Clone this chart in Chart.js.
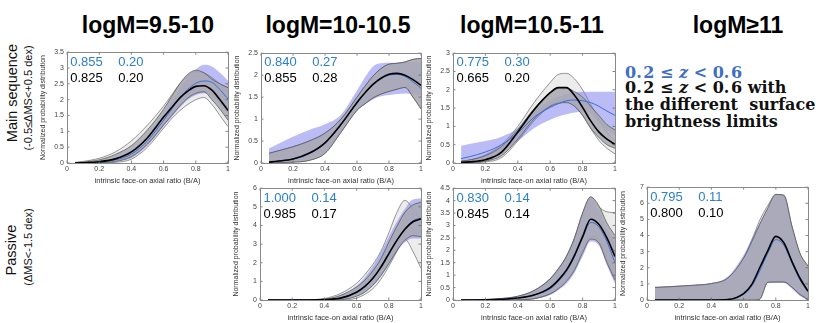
<!DOCTYPE html>
<html><head><meta charset="utf-8">
<script src="https://cdn.jsdelivr.net/npm/chart.js@4.4.0/dist/chart.umd.min.js"></script>
<style>
html,body{margin:0;padding:0;background:#fff;}
#wrap{position:relative;width:830px;height:323px;overflow:hidden;font-family:'Liberation Sans',Arial,sans-serif;}
canvas{position:absolute;}
.t{position:absolute;white-space:nowrap;}
.title{font-weight:bold;font-size:23px;line-height:23px;transform:translateX(-50%);color:#000;}
.num{font-size:13px;line-height:13px;color:#000;}
.blue{color:#2b7fcb;}
.rot{transform:translate(-50%,-50%) rotate(-90deg);color:#111;}
.leg{font-family:'DejaVu Serif',serif;font-weight:bold;font-size:16px;line-height:16px;color:#111;}
.legb{color:#3f6fbf;}
</style></head><body><div id="wrap"></div>
<script>
// ---- data ----
const X = [0.05,0.1,0.2,0.3,0.4,0.5,0.6,0.65,0.7,0.75,0.8,0.85,0.9,0.95,1.0];

const titles = ['logM=9.5-10','logM=10-10.5','logM=10.5-11','logM\u226511'];
const xTitle = 'intrinsic face-on axial ratio (B/A)';
const yTitle = 'Normalized probability distribution';

// panel 1: main sequence, logM 9.5-10
const p1_black  = [0.0,0.01,0.04,0.13,0.35,0.8,1.45,1.75,2.05,2.27,2.42,2.44,2.3,2.0,1.66];
const p1_blue   = [0,0.01,0.03,0.1,0.28,0.7,1.35,1.7,2.05,2.33,2.52,2.59,2.55,2.32,2.02];
const p1_blueHi = [0.01,0.02,0.06,0.17,0.4,0.85,1.55,1.95,2.35,2.7,2.95,3.1,3.05,2.85,2.6];
const p1_blueLo = [0,0,0.01,0.05,0.16,0.55,1.15,1.45,1.75,2.0,2.15,2.2,2.1,1.85,1.55];
const p1_darkHi = [0.01,0.03,0.1,0.27,0.55,1.05,1.7,2.1,2.5,2.8,2.93,2.85,2.65,2.5,2.38];
const p1_darkLo = [0,0,0.01,0.05,0.2,0.6,1.2,1.5,1.8,2.05,2.2,2.25,2.0,1.7,1.35];
const p1_lightHi= [0.02,0.05,0.15,0.35,0.7,1.2,1.8,2.15,2.5,2.75,2.88,2.85,2.7,2.5,2.38];
const p1_lightLo= [0,0,0,0.02,0.12,0.5,1.1,1.4,1.65,1.85,2.0,2.07,1.85,1.5,1.15];

// panel 2: main sequence, logM 10-10.5
const p2_black  = [0.02,0.04,0.09,0.22,0.46,0.88,1.38,1.6,1.79,1.93,2.02,2.04,2.0,1.9,1.77];
const p2_blue   = [0.02,0.04,0.09,0.21,0.45,0.87,1.37,1.59,1.78,1.92,2.0,2.02,1.97,1.85,1.7];
const p2_blueHi = [0.33,0.42,0.6,0.75,0.88,1.1,1.65,1.95,2.2,2.27,2.28,2.28,2.3,2.3,2.3];
const p2_blueLo = [0,0.01,0.04,0.1,0.25,0.7,1.2,1.33,1.45,1.52,1.55,1.57,1.58,1.57,1.55];
const p2_darkHi = [0.22,0.27,0.37,0.5,0.68,1.0,1.5,1.75,1.98,2.15,2.25,2.27,2.3,2.36,2.38];
const p2_darkLo = [0,0.01,0.02,0.06,0.22,0.7,1.2,1.35,1.48,1.57,1.63,1.68,1.72,1.5,1.23];
const p2_lightHi= p2_darkHi;
const p2_lightLo= p2_darkLo;

// panel 3: main sequence, logM 10.5-11
const p3_black  = [0.02,0.03,0.09,0.3,0.85,1.45,1.92,2.06,2.06,1.85,1.52,1.15,0.85,0.65,0.51];
const p3_blue   = [0.12,0.17,0.3,0.5,0.82,1.25,1.52,1.62,1.7,1.72,1.7,1.65,1.55,1.42,1.3];
const p3_blueHi = [0.47,0.52,0.6,0.72,0.95,1.4,1.7,1.8,1.88,1.93,1.95,1.95,1.95,1.95,1.95];
const p3_blueLo = [0,0.03,0.12,0.3,0.6,0.95,1.18,1.27,1.33,1.38,1.4,1.35,1.1,0.9,0.75];
const p3_darkHi = [0.05,0.08,0.2,0.45,0.92,1.48,1.93,2.06,2.05,1.95,1.8,1.55,1.3,1.05,0.9];
const p3_darkLo = [0,0.01,0.05,0.2,0.65,1.2,1.55,1.63,1.65,1.55,1.3,0.95,0.7,0.5,0.4];
const p3_lightHi= [0.05,0.08,0.22,0.5,1.0,1.65,2.2,2.42,2.45,2.3,2.0,1.6,1.2,0.85,0.6];
const p3_lightLo= [0,0.01,0.03,0.15,0.6,1.15,1.55,1.66,1.67,1.55,1.3,0.95,0.62,0.4,0.25];

// panel 4: passive, logM 10-10.5
const p4_black  = [0,0,0,0,0.02,0.1,0.42,0.72,1.15,1.75,2.48,3.2,3.8,4.2,4.35];
const p4_blue   = [0,0,0,0,0.02,0.11,0.44,0.75,1.18,1.78,2.5,3.22,3.82,4.25,4.4];
const p4_blueHi = [0,0,0,0.01,0.05,0.25,0.75,1.2,1.8,2.55,3.4,4.2,4.9,5.4,5.45];
const p4_blueLo = [0,0,0,0,0,0.02,0.2,0.4,0.75,1.25,1.9,2.6,3.1,3.3,3.3];
const p4_darkHi = [0,0,0,0.01,0.04,0.25,0.7,1.05,1.55,2.2,3.1,3.95,4.7,5.1,5.25];
const p4_darkLo = [0,0,0,0,0,0.02,0.2,0.42,0.78,1.3,1.95,2.65,3.2,3.45,3.4];
const p4_lightHi= [0,0,0,0.01,0.08,0.35,0.9,1.35,1.9,2.6,3.6,4.7,5.35,4.9,4.3];
const p4_lightLo= [0,0,0,0,0,0,0.1,0.3,0.6,1.1,1.8,2.6,3.25,2.6,1.7];

// panel 5: passive, logM 10.5-11
const p5_black  = [0,0,0.01,0.03,0.08,0.2,0.5,0.8,1.2,1.8,2.55,3.25,3.05,2.5,1.75];
const p5_blue   = [0,0,0.01,0.03,0.08,0.2,0.45,0.75,1.15,1.75,2.5,3.12,2.95,2.35,1.5];
const p5_blueHi = [0,0,0.02,0.06,0.16,0.4,0.9,1.3,1.8,2.55,3.5,4.1,3.6,2.9,2.3];
const p5_blueLo = [0,0,0,0,0.01,0.05,0.2,0.4,0.65,1.1,1.75,2.35,2.2,1.4,0.65];
const p5_darkHi = [0,0,0.02,0.06,0.15,0.38,0.85,1.25,1.75,2.5,3.5,4.15,3.8,3.1,2.6];
const p5_darkLo = [0,0,0,0,0.01,0.05,0.25,0.45,0.75,1.2,1.9,2.45,2.3,1.5,0.8];
const p5_lightHi= [0,0,0.02,0.06,0.15,0.38,0.85,1.25,1.75,2.5,3.5,4.15,3.75,3.55,3.52];
const p5_lightLo= [0,0,0,0,0.01,0.05,0.25,0.45,0.8,1.25,2.0,2.55,2.4,1.6,0.9];

// panel 6: passive, logM >= 11
const p6_black  = [0,0,0,0,0,0.03,0.4,0.95,2.0,3.05,3.95,3.55,2.4,1.35,0.55];
const p6_blue   = [0,0,0,0,0,0.03,0.35,0.85,1.8,2.9,3.75,3.4,2.3,1.25,0.5];
const p6_blueHi = [0.82,0.84,0.88,0.95,1.05,1.45,2.8,3.8,4.8,5.7,6.55,6.5,4.6,2.8,2.0];
const p6_blueLo = [0,0,0,0,0,0,0,0,0.05,1.05,1.05,1.05,0.7,0.25,0];
const p6_darkHi = [0.78,0.8,0.86,0.92,1.02,1.35,2.6,3.6,4.7,5.7,6.55,6.5,4.6,2.9,2.1];
const p6_darkLo = [0,0,0,0,0,0,0,0,0.05,1.1,1.12,1.12,0.8,0.35,0.02];
const p6_lightHi= [0.78,0.8,0.86,0.92,1.02,1.35,2.6,3.7,4.95,5.85,6.55,6.5,4.6,2.9,2.1];
const p6_lightLo= p6_darkLo;

// statistics written in each panel: [mean, width]
const statsBlue  = [['0.855','0.20'],['0.840','0.27'],['0.775','0.30'],['1.000','0.14'],['0.830','0.14'],['0.795','0.11']];
const statsBlack = [['0.825','0.20'],['0.855','0.28'],['0.665','0.20'],['0.985','0.17'],['0.845','0.14'],['0.800','0.10']];

const yMax  = [3.5,2.5,3,6,4.5,7];
const yStep = [0.5,0.5,0.5,1,0.5,1];

// ---- layout ----
const geom = [
  {L:66.7,R:228,T:51,B:163},
  {L:260.7,R:421,T:51.7,B:163},
  {L:453,R:615,T:51.7,B:163},
  {L:260,R:421,T:187,B:300},
  {L:453,R:615,T:187,B:300},
  {L:646.7,R:808,T:186,B:300}
];
const series = [
  [p1_black,p1_blue,p1_darkLo,p1_darkHi,p1_blueLo,p1_blueHi,p1_lightLo,p1_lightHi],
  [p2_black,p2_blue,p2_darkLo,p2_darkHi,p2_blueLo,p2_blueHi,p2_lightLo,p2_lightHi],
  [p3_black,p3_blue,p3_darkLo,p3_darkHi,p3_blueLo,p3_blueHi,p3_lightLo,p3_lightHi],
  [p4_black,p4_blue,p4_darkLo,p4_darkHi,p4_blueLo,p4_blueHi,p4_lightLo,p4_lightHi],
  [p5_black,p5_blue,p5_darkLo,p5_darkHi,p5_blueLo,p5_blueHi,p5_lightLo,p5_lightHi],
  [p6_black,p6_blue,p6_darkLo,p6_darkHi,p6_blueLo,p6_blueHi,p6_lightLo,p6_lightHi]
];

const wrap = document.getElementById('wrap');
function addText(cls, html, left, top){
  const d = document.createElement('div');
  d.className = 't ' + cls; d.innerHTML = html;
  d.style.left = left + 'px'; d.style.top = top + 'px';
  wrap.appendChild(d); return d;
}

// titles
const titleX = [148, 338, 532, 738];
titles.forEach((t,i)=>addText('title', t, titleX[i], 13.5));

// row labels
addText('rot', 'Main sequence', 11.5, 92.5).style.fontSize = '14.5px';
addText('rot', '(-0.5\u2264\u0394MS&lt;+0.5 dex)', 27.5, 98).style.fontSize = '11px';
addText('rot', 'Passive', 11, 250).style.fontSize = '14.5px';
addText('rot', '(\u0394MS&lt;-1.5 dex)', 27.5, 247).style.fontSize = '11px';

// legend
addText('leg legb', '0.\u200a2 \u2264 <i>z</i> &lt; 0.\u200a6', 625, 64.5);
addText('leg', '0.\u200a2 \u2264 <i>z</i> &lt; 0.\u200a6 with', 625, 80.3);
addText('leg', 'the different&nbsp;&nbsp;surface', 625, 97);
addText('leg', 'brightness limits', 625, 114);

const frame = {
  id: 'frame',
  afterDatasetsDraw(chart){
    const {ctx, chartArea:a, scales:{x, y}} = chart;
    ctx.save();
    ctx.strokeStyle = '#666'; ctx.lineWidth = 0.8;
    ctx.beginPath();
    x.ticks.forEach(t=>{ const p = x.getPixelForValue(t.value);
      ctx.moveTo(p, a.bottom); ctx.lineTo(p, a.bottom-2.5);
      ctx.moveTo(p, a.top); ctx.lineTo(p, a.top+2.5); });
    y.ticks.forEach(t=>{ const p = y.getPixelForValue(t.value);
      ctx.moveTo(a.left, p); ctx.lineTo(a.left+2.5, p);
      ctx.moveTo(a.right, p); ctx.lineTo(a.right-2.5, p); });
    ctx.stroke();
    ctx.strokeStyle = '#8a8a8a'; ctx.lineWidth = 1;
    ctx.strokeRect(Math.round(a.left)+0.5, Math.round(a.top)+0.5, Math.round(a.width), Math.round(a.height));
    ctx.restore();
  }
};

const YW = 28, PT = 6, PR = 6, XH = 22;
geom.forEach((g,i)=>{
  const c = document.createElement('canvas');
  const left = Math.round(g.L) - YW, top = Math.round(g.T) - PT;
  const w = Math.round(g.R) - Math.round(g.L) + YW + PR;
  const h = Math.round(g.B) - Math.round(g.T) + PT + XH;
  c.width = w; c.height = h; c.style.left = left+'px'; c.style.top = top+'px';
  wrap.appendChild(c);
  const s = series[i];
  const pts = arr => arr.map((v,k)=>({x:X[k], y:v}));
  const base = {pointRadius:0, cubicInterpolationMode:'monotone', tension:0.4};
  new Chart(c, {
    type:'line',
    data:{datasets:[
      Object.assign({data:pts(s[0]), borderColor:'#000', borderWidth:1.6, fill:false, order:0}, base),
      Object.assign({data:pts(s[1]), borderColor:'#3a70d8', borderWidth:1, fill:false, order:1}, base),
      Object.assign({data:pts(s[2]), borderColor:'#505050', borderWidth:0.7, fill:false, order:2}, base),
      Object.assign({data:pts(s[3]), borderColor:'#505050', borderWidth:0.7, fill:2, backgroundColor:'rgba(168,168,178,0.85)', order:3}, base),
      Object.assign({data:pts(s[4]), borderWidth:0, borderColor:'rgba(0,0,0,0)', fill:false, order:4}, base),
      Object.assign({data:pts(s[5]), borderWidth:0, borderColor:'rgba(0,0,0,0)', fill:4, backgroundColor:'rgba(120,120,235,0.5)', order:5}, base),
      Object.assign({data:pts(s[6]), borderColor:'#333', borderWidth:0.5, fill:false, order:6}, base),
      Object.assign({data:pts(s[7]), borderColor:'#333', borderWidth:0.5, fill:6, backgroundColor:'#ececec', order:7}, base)
    ]},
    options:{
      responsive:false, animation:false, devicePixelRatio:1,
      layout:{padding:{left:0, top:PT, right:PR, bottom:0}},
      plugins:{legend:{display:false}, tooltip:{enabled:false}},
      scales:{
        x:{type:'linear', min:0, max:1,
           ticks:{stepSize:0.2, font:{size:7, family:'Liberation Sans'}, color:'#444', padding:2, maxRotation:0,
                  callback:v=>String(+v.toFixed(2))},
           grid:{display:false, drawTicks:false}, border:{display:false},
           title:{display:true, text:xTitle, font:{size:7.5, family:'Liberation Sans'}, color:'#333', padding:{top:1,bottom:0}},
           afterFit:sc=>{sc.height = XH;}},
        y:{type:'linear', min:0, max:yMax[i],
           ticks:{stepSize:yStep[i], font:{size:7, family:'Liberation Sans'}, color:'#444', padding:3,
                  callback:v=>String(+v.toFixed(2))},
           grid:{display:false, drawTicks:false}, border:{display:false},
           title:{display:true, text:yTitle, font:{size:7, family:'Liberation Sans'}, color:'#333', padding:{top:0,bottom:1}},
           afterFit:sc=>{sc.width = YW;}}
      }
    },
    plugins:[frame]
  });
  // statistics text
  addText('num blue', statsBlue[i][0], g.L+3.5, g.T+3.7);
  addText('num blue', statsBlue[i][1], g.L+51.5, g.T+3.7);
  addText('num', statsBlack[i][0], g.L+3.5, g.T+19.7);
  addText('num', statsBlack[i][1], g.L+51.5, g.T+19.7);
});
</script></body></html>
